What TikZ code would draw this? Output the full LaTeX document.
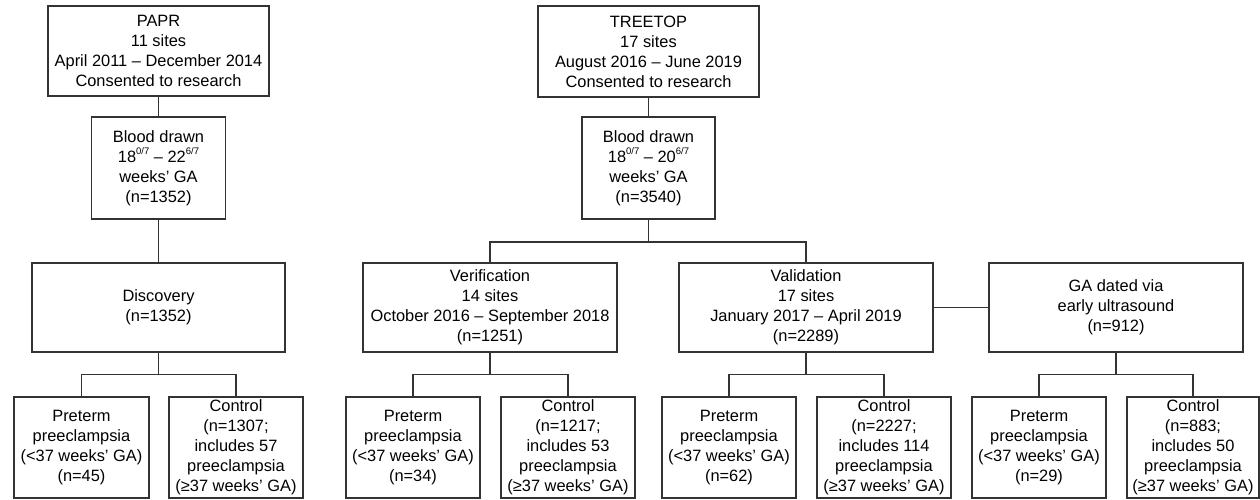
\documentclass[tikz,border=0pt]{standalone}
\usepackage{fontspec}
\setmainfont{Liberation Sans}
\tikzset{
  box/.style={draw=black!80, line width=1.7pt, align=center, inner sep=0pt,
    font=\fontsize{16.4}{20}\selectfont},
  link/.style={draw=black!80, line width=1.7pt},
}
\newcommand{\sups}[1]{\raisebox{0.45em}{\fontsize{9.5}{9.5}\selectfont #1}}
\begin{document}
\begin{tikzpicture}[x=1pt,y=-1pt]
\useasboundingbox (0,0) rectangle (1260,499);
% top level
\node[box, minimum width=221, minimum height=90] (papr) at (158.5,51)
  {PAPR\\11 sites\\April 2011 – December 2014\\Consented to research};
\node[box, minimum width=221, minimum height=91] (tree) at (648.5,51.5)
  {TREETOP\\17 sites\\August 2016 – June 2019\\Consented to research};
% blood drawn
\node[box, minimum width=134, minimum height=102] (bl1) at (158.5,168)
  {Blood drawn\\18\sups{0/7} – 22\sups{6/7}\\weeks’ GA\\(n=1352)};
\node[box, minimum width=133, minimum height=102] (bl2) at (648.5,168)
  {Blood drawn\\18\sups{0/7} – 20\sups{6/7}\\weeks’ GA\\(n=3540)};
% cohorts
\node[box, minimum width=253, minimum height=89] (disc) at (158.5,307.5)
  {Discovery\\(n=1352)};
\node[box, minimum width=254, minimum height=89] (ver) at (490,307.5)
  {Verification\\14 sites\\October 2016 – September 2018\\(n=1251)};
\node[box, minimum width=254, minimum height=89] (val) at (806,307.5)
  {Validation\\17 sites\\January 2017 – April 2019\\(n=2289)};
\node[box, minimum width=254, minimum height=89] (ga) at (1116,307.5)
  {GA dated via\\early ultrasound\\(n=912)};
% outcomes
\node[box, minimum width=135, minimum height=101] (p1) at (81.5,447.5)
  {Preterm\\preeclampsia\\(<37 weeks’ GA)\\(n=45)};
\node[box, minimum width=134, minimum height=101] (c1) at (236,447.5)
  {Control\\(n=1307;\\includes 57\\preeclampsia\\(≥37 weeks’ GA)};
\node[box, minimum width=134, minimum height=101] (p2) at (413,447.5)
  {Preterm\\preeclampsia\\(<37 weeks’ GA)\\(n=34)};
\node[box, minimum width=134, minimum height=101] (c2) at (568,447.5)
  {Control\\(n=1217;\\includes 53\\preeclampsia\\(≥37 weeks’ GA)};
\node[box, minimum width=134, minimum height=101] (p3) at (729,447.5)
  {Preterm\\preeclampsia\\(<37 weeks’ GA)\\(n=62)};
\node[box, minimum width=134, minimum height=101] (c3) at (884,447.5)
  {Control\\(n=2227;\\includes 114\\preeclampsia\\(≥37 weeks’ GA)};
\node[box, minimum width=134, minimum height=101] (p4) at (1039,447.5)
  {Preterm\\preeclampsia\\(<37 weeks’ GA)\\(n=29)};
\node[box, minimum width=132, minimum height=101] (c4) at (1193,447.5)
  {Control\\(n=883;\\includes 50\\preeclampsia\\(≥37 weeks’ GA)};
% branch levels
\coordinate (top) at (0,242);
\coordinate (low) at (0,374.5);
% connectors
\draw[link] (papr) -- (bl1);
\draw[link] (bl1) -- (disc);
\draw[link] (tree) -- (bl2);
\draw[link] (bl2.south) -- (bl2.south |- top);
\draw[link] (ver.north) -- (ver.north |- top) -- (val.north |- top) -- (val.north);
\draw[link] (val.east) -- (ga.west);
\foreach \parent/\a/\b in {disc/p1/c1, ver/p2/c2, val/p3/c3, ga/p4/c4}{
  \draw[link] (\parent.south) -- (\parent.south |- low);
  \draw[link] (\a.north) -- (\a.north |- low) -- (\b.north |- low) -- (\b.north);
}
\end{tikzpicture}
\end{document}
